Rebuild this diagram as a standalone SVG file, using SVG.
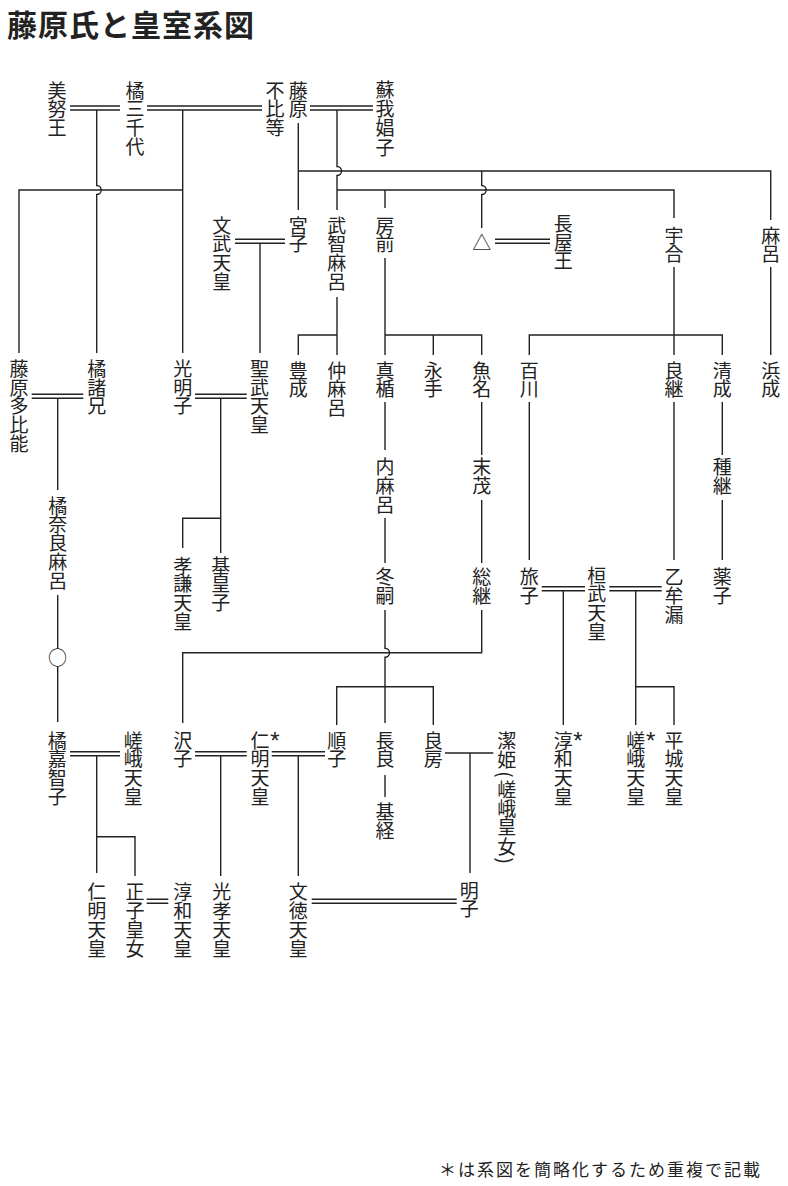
<svg xmlns="http://www.w3.org/2000/svg" width="788" height="1186" viewBox="0 0 788 1186">
<style>
.v{font-family:"Noto Sans CJK JP","Noto Sans CJK SC",sans-serif;font-size:19px;fill:#222;writing-mode:vertical-rl;letter-spacing:-0.2px}
.t{font-family:"Noto Sans CJK JP","Noto Sans CJK SC",sans-serif;font-size:19px;fill:#222;text-anchor:middle}
.a{font-family:"Liberation Sans",sans-serif;font-size:24px;fill:#222;text-anchor:middle}
.l{stroke:#222;stroke-width:1.4;fill:none}
.title{font-family:"Noto Sans CJK JP",sans-serif;font-size:30px;font-weight:bold;fill:#222;letter-spacing:1px}
.note{font-family:"Noto Sans CJK JP",sans-serif;font-size:17px;fill:#222;letter-spacing:2px}
</style>
<rect width="788" height="1186" fill="#fff"/>
<text class="title" x="7" y="35.5">藤原氏と皇室系図</text>
<text class="note" x="439" y="1176">＊は系図を簡略化するため重複で記載</text>

<g id="connectors" class="l">
<path d="M70,106H120M70,110H120"/>
<path d="M147,106H262M147,110H262"/>
<path d="M310,106H373M310,110H373"/>
<path d="M235,239.3H285M235,243.3H285"/>
<path d="M495,239.3H550M495,243.3H550"/>
<path d="M31.7,394.3H83.3M31.7,398.3H83.3"/>
<path d="M195,394.3H246.7M195,398.3H246.7"/>
<path d="M541.7,586.7H585M541.7,590.7H585"/>
<path d="M609.3,586.7H661.7M609.3,590.7H661.7"/>
<path d="M70,751.7H120M70,755.7H120"/>
<path d="M195,751.7H246.7M195,755.7H246.7"/>
<path d="M271.7,751.7H325M271.7,755.7H325"/>
<path d="M146.7,899.3H168.3M146.7,903.3H168.3"/>
<path d="M311.7,899.3H456.7M311.7,903.3H456.7"/>
<path d="M445,753H493.3"/>
<path d="M96.7,110V185.5A4.5,4.5 0 0 1 96.7,194.5V353"/>
<path d="M182.7,110V353M182.7,190H19V353"/>
<path d="M298.3,123V210M298.3,171H770.7V220"/>
<path d="M337,110V166.5A4.5,4.5 0 0 1 337,175.5V210M337,190H674V218M385,190V208"/>
<path d="M481.7,171V185.5A4.5,4.5 0 0 1 481.7,194.5V228"/>
<path d="M260,243.3V353"/>
<path d="M57.7,398.3V490"/>
<path d="M220.7,398.3V553M220.7,518.3H182.7V548"/>
<path d="M337,297V355M337,335H298.3V355"/>
<path d="M385,258V355M385,335H481.7V355M433.3,335V355"/>
<path d="M674,267V355M529.3,355V335H722.3V355"/>
<path d="M770.7,267V355"/>
<path d="M385,402V450M385,518V563"/>
<path d="M481.7,402V455M481.7,500V563"/>
<path d="M722.3,402V455M722.3,500V560"/>
<path d="M529.3,402V560"/>
<path d="M674,402V560"/>
<path d="M563.3,590.7V725"/>
<path d="M635.7,590.7V725M635.7,686.7H674V725"/>
<path d="M57.7,595V649M57.7,666.5V722"/>
<path d="M385,610V648.2A4.5,4.5 0 0 1 385,657.2V723M336.7,725V686.7H433.3V725"/>
<path d="M481.7,610V652.7H182.7V723"/>
<path d="M96.7,755.7V873M96.7,836.7H135V876"/>
<path d="M220.7,755.7V876"/>
<path d="M298.3,755.7V876"/>
<path d="M385,775V797"/>
<path d="M470,753V873"/>
</g>

<g id="n-minu"><text class="v" x="57" y="80.8">美努王</text></g>
<g id="n-michiyo"><text class="v" x="135" y="80.8">橘三千代</text></g>
<g id="n-fuhito"><text class="v" x="298.3" y="80.8">藤原</text><text class="v" x="275" y="80.8">不比等</text></g>
<g id="n-shoshi"><text class="v" x="385" y="80.1" style="letter-spacing:0.3px">蘇我娼子</text></g>
<g id="n-monmu"><text class="v" x="221.7" y="215.8">文武天皇</text></g>
<g id="n-miyako"><text class="v" x="298.3" y="215.8">宮子</text></g>
<g id="n-muchimaro"><text class="v" x="336.7" y="215.8">武智麻呂</text></g>
<g id="n-fusasaki"><text class="v" x="385" y="215.8">房前</text></g>
<g id="n-unknown1"><text class="t" x="481.7" y="249.5">△</text></g>
<g id="n-nagaya"><text class="v" x="563.3" y="214.1">長屋王</text></g>
<g id="n-umakai"><text class="v" x="674" y="225.8">宇合</text></g>
<g id="n-maro"><text class="v" x="770.7" y="225.8">麻呂</text></g>

<g id="n-tahino"><text class="v" x="19" y="359.1">藤原多比能</text></g>
<g id="n-moroe"><text class="v" x="96.7" y="359.1">橘諸兄</text></g>
<g id="n-komyoshi"><text class="v" x="182.7" y="359.1">光明子</text></g>
<g id="n-shomu"><text class="v" x="259.5" y="359.1">聖武天皇</text></g>
<g id="n-toyonari"><text class="v" x="298.3" y="360.8">豊成</text></g>
<g id="n-nakamaro"><text class="v" x="336.7" y="360.8">仲麻呂</text></g>
<g id="n-matate"><text class="v" x="385" y="360.8">真楯</text></g>
<g id="n-nagate"><text class="v" x="433.3" y="360.8">永手</text></g>
<g id="n-uona"><text class="v" x="481.7" y="360.8">魚名</text></g>
<g id="n-momokawa"><text class="v" x="529.3" y="360.8">百川</text></g>
<g id="n-yoshitsugu"><text class="v" x="674" y="360.8">良継</text></g>
<g id="n-kiyonari"><text class="v" x="722.3" y="360.8">清成</text></g>
<g id="n-hamanari"><text class="v" x="770.7" y="360.8">浜成</text></g>

<g id="n-uchimaro"><text class="v" x="385" y="457.4">内麻呂</text></g>
<g id="n-sueshige"><text class="v" x="481.7" y="457.1">末茂</text></g>
<g id="n-tanetsugu"><text class="v" x="722.3" y="457.1">種継</text></g>
<g id="n-naramaro"><text class="v" x="57.7" y="495.8">橘奈良麻呂</text></g>
<g id="n-koken"><text class="v" x="182.7" y="555.8">孝謙天皇</text></g>
<g id="n-motoi"><text class="v" x="220.7" y="555.8">基皇子</text></g>
<g id="n-fuyutsugu"><text class="v" x="385" y="567.4">冬嗣</text></g>
<g id="n-fusatsugu"><text class="v" x="481.7" y="567.4">総継</text></g>
<g id="n-tabiko"><text class="v" x="529.3" y="567.4">旅子</text></g>
<g id="n-kammu"><text class="v" x="596.7" y="565.8">桓武天皇</text></g>
<g id="n-otomuro"><text class="v" x="674" y="567.4">乙牟漏</text></g>
<g id="n-kusuko"><text class="v" x="722.3" y="567.4">薬子</text></g>
<g id="n-unknown2"><text class="t" x="57.5" y="665">○</text></g>

<g id="n-kachiko"><text class="v" x="57.3" y="730.8">橘嘉智子</text></g>
<g id="n-saga1"><text class="v" x="133.3" y="730.8">嵯峨天皇</text></g>
<g id="n-takuko"><text class="v" x="182.7" y="730.8">沢子</text></g>
<g id="n-nimmyo1"><text class="v" x="260" y="730.8">仁明天皇</text><text class="a" x="275" y="748.9">*</text></g>
<g id="n-junshi"><text class="v" x="336.7" y="730.8">順子</text></g>
<g id="n-nagara"><text class="v" x="385" y="730.8">長良</text></g>
<g id="n-yoshifusa"><text class="v" x="433.3" y="730.8">良房</text></g>
<g id="n-kiyohime"><text class="v" x="506.7" y="730.8">潔<tspan style="letter-spacing:2.5px">姫(</tspan>嵯峨皇<tspan style="letter-spacing:2px">女</tspan>)</text></g>
<g id="n-junna1"><text class="v" x="563.3" y="730.8">淳和天皇</text><text class="a" x="578" y="748.9">*</text></g>
<g id="n-saga2"><text class="v" x="635.7" y="730.8">嵯峨天皇</text><text class="a" x="650.7" y="748.9">*</text></g>
<g id="n-heizei"><text class="v" x="674" y="730.8">平城天皇</text></g>
<g id="n-mototsune"><text class="v" x="385" y="802.4">基経</text></g>

<g id="n-nimmyo2"><text class="v" x="96.7" y="882.4">仁明天皇</text></g>
<g id="n-seishi"><text class="v" x="135" y="882.4">正子皇女</text></g>
<g id="n-junna2"><text class="v" x="182.7" y="882.4">淳和天皇</text></g>
<g id="n-koko"><text class="v" x="221.7" y="882.4">光孝天皇</text></g>
<g id="n-montoku"><text class="v" x="298.3" y="882.4">文徳天皇</text></g>
<g id="n-akirakeiko"><text class="v" x="469.3" y="880.8">明子</text></g>
</svg>
